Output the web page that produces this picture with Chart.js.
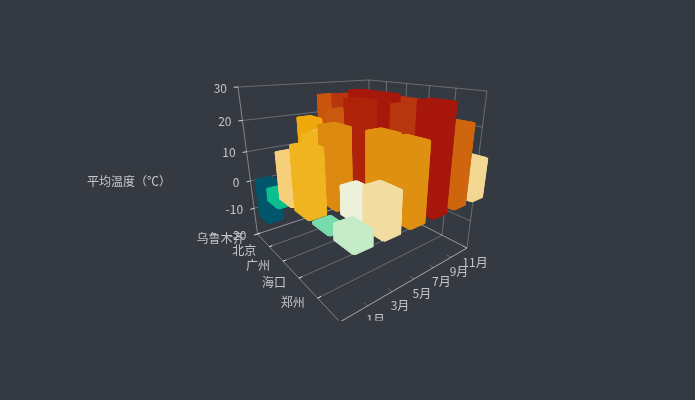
<!DOCTYPE html>
<html>
<head>
<meta charset="utf-8">
<script src="https://cdn.jsdelivr.net/npm/chart.js@4/dist/chart.umd.min.js"></script>
<style>
  html, body { margin: 0; padding: 0; background: #353a42; }
  canvas { display: block; }
</style>
</head>
<body>
<canvas id="bars" width="695" height="400"></canvas>
<script>
// ================= Data =================
const months = ['1月', '3月', '5月', '7月', '9月', '11月'];
const cities = ['乌鲁木齐', '北京', '广州', '海口', '郑州', '武汉'];
const tempTicks = [-20, -10, 0, 10, 20, 30];
const axisName = '平均温度（℃）';

const urumqi = [-13, 1, 19, 26, 17, 0];
const beijing = [-4, 6, 16, 27, 20, 4];
const guangzhou = [14, 18, 24, 29, 27, 19];
const haikou = [18, 22, 28, 29, 27, 22];
const zhengzhou = [0.5, 8, 21, 27, 21, 9];
const wuhan = [4, 11, 21, 29, 23, 12];
const cityTemps = [urumqi, beijing, guangzhou, haikou, zhengzhou, wuhan];

// colour ramp, same job as a visualMap
const rampTemps = [-13, -4, 0, 4, 8, 11, 14, 18, 19, 21, 22, 23, 24, 26, 27, 28, 29];
const rampColors = ['#00566b', '#0bbf8f', '#6dd8a8', '#c5ecc8', '#eef1da', '#f2dda0', '#f5cf7a',
  '#f0b420', '#f0a90c', '#e09010', '#dc8a10', '#cf660e', '#ca5a0e', '#c9540e', '#b8360e', '#ae2309', '#a8170b'];

// ================= Camera (projective map of the unit box) =================
const camO = [257.5, 234, 1];
const camU = [-29.02, -17.62, -0.328];
const camV = [206.95, 14.86, 0.2604];
const camW = [-55.96, -160.33, -0.1532];

function project(u, v, w) {
  const h = [0, 1, 2].map(i => camO[i] + u * camU[i] + v * camV[i] + w * camW[i]);
  return { x: h[0] / h[2], y: h[1] / h[2], d: h[2] };
}

function decimal(scale, value) {
  return scale.getDecimalForPixel(scale.getPixelForValue(value));
}

// ================= Colour =================
function hexRgb(hex) {
  return [1, 3, 5].map(i => parseInt(hex.slice(i, i + 2), 16));
}

function tempColor(t) {
  let i = 0;
  while (i < rampTemps.length - 2 && t > rampTemps[i + 1]) i++;
  const f = Math.max(0, Math.min(1, (t - rampTemps[i]) / (rampTemps[i + 1] - rampTemps[i])));
  const a = hexRgb(rampColors[i]);
  const b = hexRgb(rampColors[i + 1]);
  const c = a.map((n, k) => Math.round(n + (b[k] - n) * f));
  return `rgb(${c[0]},${c[1]},${c[2]})`;
}

// ================= Drawing helpers =================
function line(ctx, a, b, color) {
  ctx.strokeStyle = color;
  ctx.beginPath();
  ctx.moveTo(a.x, a.y);
  ctx.lineTo(b.x, b.y);
  ctx.stroke();
}

function poly(ctx, pts, color) {
  ctx.fillStyle = color;
  ctx.strokeStyle = color;
  ctx.lineWidth = 1;
  ctx.lineJoin = 'round';
  ctx.beginPath();
  pts.forEach((p, i) => i ? ctx.lineTo(p.x, p.y) : ctx.moveTo(p.x, p.y));
  ctx.closePath();
  ctx.fill();
  ctx.stroke();
}

// ================= Box, grid and labels =================
function drawBox(chart) {
  const ctx = chart.ctx;
  const yScale = chart.scales.y;
  const grid = 'rgba(255,255,255,0.26)';
  const edge = 'rgba(255,255,255,0.38)';
  const tick = 'rgba(255,255,255,0.8)';
  ctx.save();
  ctx.lineWidth = 1;
  ctx.beginPath();
  ctx.rect(0, 0, 695, 320.5);
  ctx.clip();

  // floor, walls
  cities.forEach((c, i) => {
    const u = i / (cities.length - 1);
    line(ctx, project(u, 0, 0), project(u, 1, 0), grid);
    line(ctx, project(u, 1, 0), project(u, 1, 1), grid);
    line(ctx, project(u, 0, 0), project(u, 0.02, 0), tick);
  });
  yScale.ticks.forEach(t => {
    const w = decimal(yScale, t.value);
    line(ctx, project(0, 0, w), project(0, 1, w), grid);
    line(ctx, project(0, 1, w), project(1, 1, w), grid);
    line(ctx, project(0, -0.025, w), project(0, 0, w), tick);
  });
  months.forEach((m, i) => {
    const v = (i + 1) / months.length;
    line(ctx, project(0.97, v, 0), project(1, v, 0), grid);
  });
  line(ctx, project(0, 0, 0), project(0, 0, 1), edge);
  line(ctx, project(0, 0, 0), project(1, 0, 0), edge);
  line(ctx, project(1, 0, 0), project(1, 1, 0), edge);
  line(ctx, project(0, 1, 0), project(1, 1, 0), grid);

  // labels
  ctx.font = '12px "Noto Sans CJK SC", "Noto Sans", sans-serif';
  ctx.fillStyle = '#c4c6c9';
  ctx.textBaseline = 'middle';
  ctx.textAlign = 'right';
  yScale.ticks.forEach(t => {
    const p = project(0, 0, decimal(yScale, t.value));
    ctx.fillText(String(t.value), p.x - 11, p.y + 1);
  });
  cities.forEach((c, i) => {
    const p = project(i / (cities.length - 1), 0, 0);
    // the label of the last row falls under the bottom of the view
    if (p.y + 4 < 320) ctx.fillText(c, p.x - 13, p.y + 4);
  });
  ctx.textAlign = 'center';
  months.forEach((m, i) => {
    const p = project(1, (i + 1) / months.length, 0);
    ctx.fillText(m, p.x + 8, p.y + 14);
  });
  ctx.textAlign = 'left';
  ctx.fillText(axisName, 87, 181);
  ctx.restore();
}

// ================= Bars =================
const BAR_U = 0.155;
const BAR_V = 0.112;
const CHAMFER = 0.15;

function barOutline(uc, vc) {
  const a = BAR_U / 2, b = BAR_V / 2, c = 1 - CHAMFER;
  return [[a, b * c], [a * c, b], [-a * c, b], [-a, b * c], [-a, -b * c], [-a * c, -b], [a * c, -b], [a, -b * c]]
    .map(o => [uc + o[0], vc + o[1]]);
}

function drawBar(ctx, bar) {
  const ring = barOutline(bar.u, bar.v);
  const color = tempColor(bar.t);
  ring.forEach((p, i) => {
    const q = ring[(i + 1) % ring.length];
    poly(ctx, [project(p[0], p[1], bar.w0), project(q[0], q[1], bar.w0),
      project(q[0], q[1], bar.w1), project(p[0], p[1], bar.w1)], color);
  });
  poly(ctx, ring.map(p => project(p[0], p[1], bar.w1)), color);
}

const bar3dPlugin = {
  id: 'bar3d',
  beforeDatasetsDraw(chart) {
    drawBox(chart);
    const ctx = chart.ctx;
    const { x: xScale, y: yScale, z: zScale } = chart.scales;
    const zero = decimal(yScale, 0);
    const bars = chart.data.datasets[0].data.map(pt => {
      const u = decimal(zScale, pt.city);
      const v = decimal(xScale, pt.x);
      const w = decimal(yScale, pt.y);
      return { u, v, t: pt.y, w0: Math.min(zero, w), w1: Math.max(zero, w), d: project(u, v, zero).d };
    });
    bars.sort((a, b) => b.d - a.d);
    ctx.save();
    bars.forEach(b => drawBar(ctx, b));
    ctx.restore();
  }
};

// ================= Chart =================
const points = [];
cityTemps.forEach((row, c) => row.forEach((t, m) => points.push({ x: m + 0.5, y: t, city: c })));

new Chart(document.getElementById('bars'), {
  type: 'scatter',
  data: { datasets: [{ data: points, pointRadius: 0, pointHoverRadius: 0 }] },
  options: {
    responsive: false,
    animation: false,
    plugins: { legend: { display: false }, tooltip: { enabled: false } },
    layout: { padding: 0 },
    scales: {
      x: { type: 'linear', display: false, min: 0, max: months.length },
      y: { type: 'linear', display: false, min: tempTicks[0], max: tempTicks[tempTicks.length - 1], ticks: { stepSize: 10 } },
      z: { type: 'linear', axis: 'x', position: 'bottom', display: false, min: -0.43, max: cities.length - 1 }
    }
  },
  plugins: [bar3dPlugin]
});
</script>
</body>
</html>
